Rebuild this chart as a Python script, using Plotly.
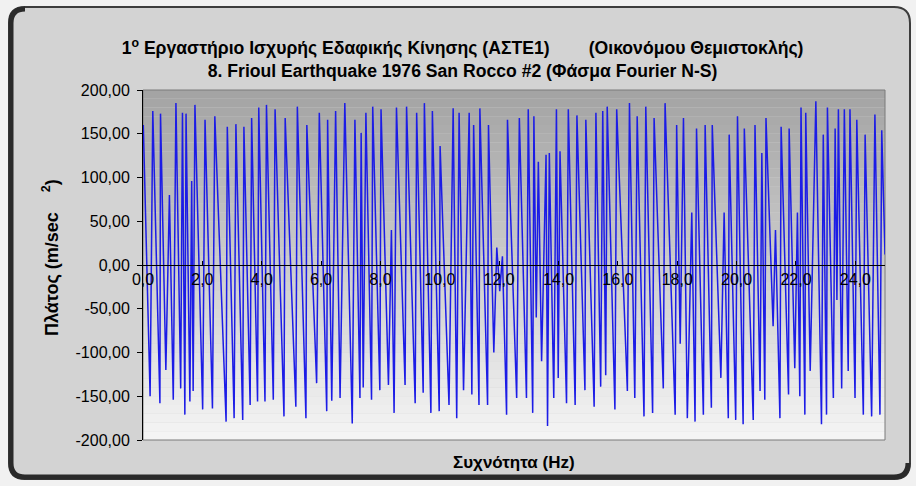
import plotly.graph_objects as go

# ---- data (frequency in Hz, amplitude in m/sec^2) ----
freq = [
    0.01, 0.24, 0.33, 0.57, 0.59, 0.77, 0.89, 1.02, 1.11, 1.27, 1.33, 1.41, 1.45, 1.58, 1.64, 1.69, 1.75,
    2.01, 2.09, 2.34, 2.42, 2.80, 2.84, 3.07, 3.13, 3.36, 3.40, 3.61, 3.66, 3.86, 3.90, 4.11, 4.16,
    4.39, 4.45, 4.75, 4.79, 5.15, 5.20, 5.49, 5.52, 5.85, 5.94, 6.19, 6.22,
    6.36, 6.49, 6.64, 6.80, 7.05, 7.14, 7.31, 7.35, 7.42, 7.51, 7.70, 7.74, 7.98, 8.02, 8.27, 8.37,
    8.46, 8.54, 8.83, 8.88, 9.17, 9.22, 9.44, 9.48, 9.70, 9.75, 9.98, 10.01, 10.31, 10.45, 10.57, 10.65,
    10.80, 10.99, 11.08, 11.14, 11.32, 11.35, 11.61, 11.64, 11.82, 11.92, 12.02, 12.11, 12.25, 12.28,
    12.59, 12.68, 12.92, 12.98, 13.13, 13.17, 13.25, 13.32, 13.43, 13.58, 13.63, 13.69, 13.84, 13.93,
    13.99, 14.05, 14.27, 14.33, 14.56, 14.62, 14.89, 14.92, 15.20, 15.26, 15.42, 15.49, 15.59, 15.64,
    15.90, 15.96, 16.32, 16.39, 16.57, 16.65, 16.88, 16.94, 17.17, 17.22, 17.53, 17.59, 17.93, 17.98,
    18.10, 18.21, 18.34, 18.49, 18.60, 18.65,
    18.88, 18.94, 19.15, 19.18, 19.47, 19.58, 19.72, 19.75, 19.97, 20.03, 20.22, 20.26, 20.56, 20.62,
    20.79, 20.85, 20.95, 20.99, 21.23, 21.31, 21.46, 21.50, 21.75, 21.77, 21.96, 22.05, 22.13, 22.17,
    22.30, 22.33, 22.48, 22.67, 22.86, 22.92, 23.03, 23.06, 23.26, 23.32, 23.38, 23.43, 23.54, 23.63,
    23.76, 23.82, 23.99, 24.05, 24.27, 24.33, 24.55, 24.66, 24.83, 24.89, 25.00,
]
amp = [
    160, -150, 176, -158, 173, -120, 80, -154, 185, -141, 174, -171, 173, -156, 96, -144, 183,
    -165, 166, -164, 170, -179, 158, -175, 161, -177, 158, -160, 168, -156, 180, -156, 183,
    -154, 178, -173, 168, -162, 181, -175, 160, -135, 174, -167, 166,
    -155, 176, -152, 185, -181, 166, -152, 151, -140, 174, -154, 181, -143, 178, -137, 40,
    -169, 180, -137, 181, -158, 174, -146, 185, -169, 176, -167, 136, -160, 179, -175, 174,
    -143, 174, -148, 160, -160, 179, -160, 160, -100, 20, -30, 10, -171, 166,
    -152, 168, -152, 178, -169, 170, -60, 118, -110, 126, -184, 128, -152, 178,
    -129, 130, -158, 178, -160, 171, -143, 166, -162, 174, -139, 176, -126, 181,
    -165, 178, -144, 185, -152, 170, -173, 181, -169, 168, -141, 185, -171, 160,
    -90, 168, -175, 60, -179, 156,
    -171, 160, -163, 160, -129, 60, -175, 149, -177, 170, -182, 156, -177, 160,
    -144, 128, -154, 168, -70, 40, -175, 158, -148, 156, -118, 60, -150, 180,
    -171, 174, -121, 187, -182, 149, -171, 180, -152, 156, -40, 178, -141, 178,
    -121, 178, -152, 166, -171, 149, -173, 172, -171, 154, 12,
]

y_tick_vals = [200, 150, 100, 50, 0, -50, -100, -150, -200]
y_tick_labels = ["200,00", "150,00", "100,00", "50,00", "0,00",
                 "-50,00", "-100,00", "-150,00", "-200,00"]
x_tick_vals = [0, 2, 4, 6, 8, 10, 12, 14, 16, 18, 20, 22, 24]
x_tick_labels = ["0,0", "2,0", "4,0", "6,0", "8,0", "10,0", "12,0",
                 "14,0", "16,0", "18,0", "20,0", "22,0", "24,0"]

title_1 = "1<sup>ο</sup> Εργαστήριο Ισχυρής Εδαφικής Κίνησης (ΑΣΤΕ1)        (Οικονόμου Θεμιστοκλής)"
title_2 = "8. Frioul Earthquake 1976 San Rocco #2 (Φάσμα Fourier N-S)"
y_title = "Πλάτος (m/sec    <sup>2</sup>)"
x_title = "Συχνότητα (Hz)"

# ---- layout geometry (pixels) ----
W, H = 916, 486
L, R, T, B = 143, 31, 90, 46
PW, PH = W - L - R, H - T - B


def px(x):
    return (x - L) / PW


def py(y):
    return (H - B - y) / PH


def rounded_rect(x0, y0, x1, y1, r):
    return (f"M {px(x0 + r)},{py(y0)} L {px(x1 - r)},{py(y0)} "
            f"Q {px(x1)},{py(y0)} {px(x1)},{py(y0 + r)} L {px(x1)},{py(y1 - r)} "
            f"Q {px(x1)},{py(y1)} {px(x1 - r)},{py(y1)} L {px(x0 + r)},{py(y1)} "
            f"Q {px(x0)},{py(y1)} {px(x0)},{py(y1 - r)} L {px(x0)},{py(y0 + r)} "
            f"Q {px(x0)},{py(y0)} {px(x0 + r)},{py(y0)} Z")


shapes = []
# outer frame
shapes.append(dict(type="path", xref="paper", yref="paper", layer="below",
                   path=rounded_rect(9, 7, 910, 479, 16),
                   fillcolor="#d3d3d3", line=dict(color="#3c3c3c", width=2)))
# dark left / bottom bevel
x0, y0, x1, y1, r = 11, 9, 908, 477, 14
shapes.append(dict(type="path", xref="paper", yref="paper", layer="below",
                   path=(f"M {px(x0 + r)},{py(y0)} Q {px(x0)},{py(y0)} {px(x0)},{py(y0 + r)} "
                         f"L {px(x0)},{py(y1 - r)} Q {px(x0)},{py(y1)} {px(x0 + r)},{py(y1)} "
                         f"L {px(x1 - r)},{py(y1)} Q {px(x1)},{py(y1)} {px(x1)},{py(y1 - r)}"),
                   line=dict(color="#2a2a2a", width=5)))
# plot-area gradient (grey at top to near white at bottom)
n = 40
top_c, bot_c = (164, 164, 164), (244, 244, 244)
for i in range(n):
    t = i / (n - 1)
    c = tuple(round(top_c[k] + (bot_c[k] - top_c[k]) * t) for k in range(3))
    shapes.append(dict(type="rect", xref="x domain", yref="y domain", layer="below",
                       x0=0, x1=1, y0=1 - (i + 1) / n, y1=1 - i / n,
                       fillcolor=f"rgb{c}", line=dict(width=0)))
# plot-area border
shapes.append(dict(type="rect", xref="x domain", yref="y domain", layer="below",
                   x0=0, x1=1, y0=0, y1=1, line=dict(color="#7a7a7a", width=1)))

fig = go.Figure()
fig.add_trace(go.Scatter(x=freq, y=amp, mode="lines",
                         line=dict(color="rgb(28,28,230)", width=1.5),
                         hoverinfo="skip", showlegend=False))

base_font = "Liberation Sans, Arial, sans-serif"
bold_font = "Liberation Sans, Arial, sans-serif"

fig.update_layout(
    width=W, height=H,
    margin=dict(l=L, r=R, t=T, b=B, autoexpand=False),
    paper_bgcolor="#f1f1f1",
    plot_bgcolor="rgba(0,0,0,0)",
    shapes=shapes,
    showlegend=False,
    title=dict(text=f"<b>{title_1}</b><br><b>{title_2}</b>",
               x=0.505, xref="container", xanchor="center",
               y=1 - 54 / H, yref="container", yanchor="middle",
               font=dict(family=bold_font, size=17.6, color="black")),
    xaxis=dict(range=[0, 25.0], anchor="free", position=0.5,
               showline=True, linecolor="black", linewidth=1,
               ticks="inside", ticklen=4, tickcolor="black",
               tickvals=x_tick_vals, ticktext=x_tick_labels,
               tickfont=dict(family=base_font, size=16, color="black"),
               showgrid=False, zeroline=False, fixedrange=True),
    yaxis=dict(range=[-200, 200], showline=True, linecolor="black", linewidth=1,
               ticks="outside", ticklen=5, tickcolor="black",
               tickvals=y_tick_vals, ticktext=y_tick_labels,
               tickfont=dict(family=base_font, size=16, color="black"),
               ticklabelstandoff=4,
               showgrid=False, zeroline=False, fixedrange=True),
    annotations=[
        dict(text=f"<b>{x_title}</b>", xref="paper", yref="paper",
             x=0.5, y=py(463), xanchor="center", yanchor="middle", showarrow=False,
             font=dict(family=bold_font, size=17, color="black")),
        dict(text=f"<b>{y_title}</b>", xref="paper", yref="paper",
             x=px(50), y=py(258), xanchor="center", yanchor="middle", showarrow=False,
             textangle=-90, font=dict(family=bold_font, size=18, color="black")),
    ],
)

fig.write_html("out.html", config={"displayModeBar": False},
               post_script="document.body.style.margin='0px';")
